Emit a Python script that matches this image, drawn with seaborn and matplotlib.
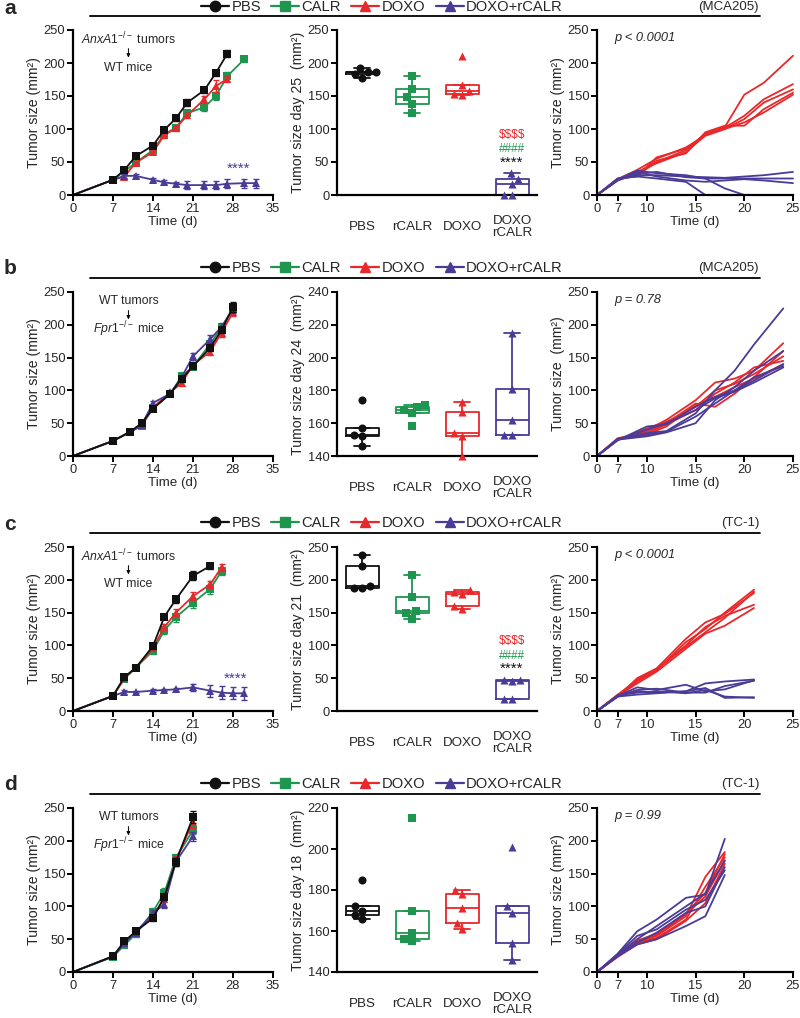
import numpy as np
import pandas as pd
import matplotlib
matplotlib.use("Agg")
import matplotlib.pyplot as plt
import seaborn as sns
from matplotlib.lines import Line2D

sns.set_theme(style="ticks")
plt.rcParams['font.family'] = ['Liberation Sans', 'DejaVu Sans']
plt.rcParams['mathtext.fontset'] = 'custom'
plt.rcParams['mathtext.rm'] = 'Liberation Sans'
plt.rcParams['mathtext.it'] = 'Liberation Sans:italic'

BLACK = '#111111'
GREEN = '#1e9650'
RED = '#e8282a'
PURPLE = '#4b3b97'

groups = ['PBS', 'CALR', 'DOXO', 'DOXO+rCALR']
box_cats = ['PBS', 'rCALR', 'DOXO', 'DOXO\nrCALR']
cells = ['(MCA205)', '(MCA205)', '(TC-1)', '(TC-1)']

# ---------------- panel a: time course ----------------
a_days_pbs = [0, 7, 9, 11, 14, 16, 18, 20, 23, 25, 27]
a_pbs = [0, 23, 38, 59, 75, 99, 116, 140, 159, 185, 214]
a_pbs_sem = [0, 2, 3, 3, 3, 4, 4, 5, 4, 5, 5]
a_days_calr = [0, 7, 9, 11, 14, 16, 18, 20, 23, 25, 27, 30]
a_calr = [0, 23, 36, 49, 68, 92, 102, 124, 133, 150, 180, 206]
a_calr_sem = [0, 2, 3, 3, 4, 4, 4, 5, 5, 6, 7, 4]
a_days_doxo = [0, 7, 9, 11, 14, 16, 18, 20, 23, 25, 27]
a_doxo = [0, 23, 28, 49, 65, 91, 101, 121, 145, 165, 176]
a_doxo_sem = [0, 2, 3, 3, 3, 4, 4, 4, 5, 9, 5]
a_days_dr = [0, 7, 9, 11, 14, 16, 18, 20, 23, 25, 27, 30, 32]
a_dr = [0, 23, 29, 29, 23, 19, 17, 15, 15, 15, 17, 18, 18]
a_dr_sem = [0, 2, 3, 3, 3, 3, 3, 6, 6, 6, 7, 7, 7]

# ---------------- panel b: time course ----------------
b_days = [0, 7, 10, 12, 14, 17, 19, 21, 24, 26, 28]
b_pbs = [0, 23, 37, 50, 72, 95, 117, 137, 165, 192, 227]
b_pbs_sem = [0, 1, 2, 2, 3, 3, 4, 4, 5, 5, 8]
b_calr = [0, 23, 37, 46, 73, 94, 122, 136, 171, 196, 225]
b_calr_sem = [0, 2, 2, 3, 3, 3, 4, 4, 5, 5, 6]
b_doxo = [0, 23, 37, 47, 74, 97, 111, 139, 159, 188, 219]
b_doxo_sem = [0, 2, 2, 2, 3, 3, 4, 4, 5, 6, 5]
b_dr = [0, 23, 36, 47, 81, 95, 120, 152, 178, 197, 224]
b_dr_sem = [0, 2, 2, 2, 3, 4, 4, 5, 6, 5, 6]

# ---------------- panel c: time course ----------------
c_days_pbs = [0, 7, 9, 11, 14, 16, 18, 21, 24]
c_pbs = [0, 23, 52, 66, 99, 144, 170, 206, 221]
c_pbs_sem = [0, 2, 4, 3, 4, 4, 6, 7, 4]
c_days_calr = [0, 7, 9, 11, 14, 16, 18, 21, 24, 26]
c_calr = [0, 23, 49, 66, 92, 123, 143, 165, 186, 213]
c_calr_sem = [0, 2, 3, 3, 5, 6, 7, 8, 7, 5]
c_doxo = [0, 23, 50, 66, 96, 128, 150, 175, 193, 219]
c_doxo_sem = [0, 2, 3, 3, 4, 5, 5, 6, 5, 5]
c_days_dr = [0, 7, 9, 11, 14, 16, 18, 21, 24, 26, 28, 30]
c_dr = [0, 23, 29, 29, 31, 32, 33, 36, 31, 28, 27, 27]
c_dr_sem = [0, 2, 3, 2, 2, 2, 2, 5, 9, 10, 9, 10]

# ---------------- panel d: time course ----------------
d_days = [0, 7, 9, 11, 14, 16, 18, 21]
d_pbs = [0, 24, 47, 62, 82, 115, 168, 236]
d_pbs_sem = [0, 2, 3, 4, 4, 6, 6, 9]
d_calr = [0, 23, 41, 58, 92, 121, 174, 216]
d_calr_sem = [0, 2, 3, 4, 6, 7, 6, 6]
d_doxo = [0, 24, 45, 62, 86, 112, 170, 229]
d_doxo_sem = [0, 2, 3, 4, 4, 6, 7, 9]
d_dr = [0, 24, 44, 60, 90, 103, 168, 207]
d_dr_sem = [0, 2, 3, 3, 5, 6, 7, 7]

# ---------------- box plots (single-day tumor sizes) ----------------
a_box_pbs = [177, 183, 186, 187, 192]
a_box_rcalr = [125, 138, 148, 161, 180]
a_box_doxo = [151, 153, 158, 167, 210]
a_box_dr = [0, 0, 16, 25, 33]

b_box_pbs = [146, 152, 153, 157, 174]
b_box_rcalr = [158, 166, 168, 170, 171]
b_box_doxo = [140, 152, 154, 167, 173]
b_box_dr = [153, 153, 162, 181, 215]

c_box_pbs = [188, 188, 191, 221, 238]
c_box_rcalr = [141, 149, 152, 174, 208]
c_box_doxo = [155, 160, 179, 181, 184]
c_box_dr = [18, 19, 46, 47, 48]

d_box_pbs = [166, 168, 170, 172, 185]
d_box_rcalr = [155, 156, 159, 170, 215]
d_box_doxo = [161, 164, 171, 178, 180]
d_box_dr = [146, 154, 169, 172, 201]

# ---------------- individual growth curves ----------------
a_ind_days = [0, 7, 9, 11, 14, 16, 18, 20, 22, 25]
a_ind_doxo = [
    [0, 24, 30, 50, 68, 93, 103, 152, 170, 211],
    [0, 25, 28, 57, 70, 92, 102, 120, 145, 168],
    [0, 23, 35, 48, 65, 90, 100, 115, 140, 160],
    [0, 22, 33, 52, 63, 95, 105, 105, 130, 155],
    [0, 24, 38, 55, 72, 90, 100, 110, 125, 152],
]
a_ind_dr = [
    [0, 23, 30, 30, 28, 27, 26, 28, 30, 35],
    [0, 24, 37, 33, 30, 25, 25, 25, 25, 25],
    [0, 22, 35, 28, 22, 20, 22, 24, 22, 18],
    [0, 25, 28, 25, 20, 0, 0, 0, 0, 0],
    [0, 23, 32, 35, 27, 25, 10, 0, 0, 0],
]
b_ind_days = [0, 7, 10, 12, 15, 17, 19, 21, 24]
b_ind_doxo = [
    [0, 25, 40, 55, 85, 112, 118, 130, 172],
    [0, 27, 37, 50, 80, 75, 95, 120, 160],
    [0, 24, 42, 52, 75, 100, 110, 125, 152],
    [0, 26, 35, 48, 70, 95, 112, 135, 145],
    [0, 25, 33, 45, 78, 90, 105, 118, 140],
]
b_ind_dr = [
    [0, 26, 35, 38, 65, 100, 130, 170, 225],
    [0, 25, 30, 36, 50, 85, 105, 130, 160],
    [0, 24, 45, 48, 75, 90, 100, 115, 140],
    [0, 26, 32, 37, 60, 80, 100, 120, 137],
    [0, 25, 40, 50, 70, 88, 98, 112, 135],
]
c_ind_days = [0, 7, 9, 11, 14, 16, 18, 21]
c_ind_doxo = [
    [0, 23, 45, 62, 105, 125, 150, 185],
    [0, 22, 50, 65, 110, 135, 148, 180],
    [0, 24, 48, 63, 100, 128, 145, 162],
    [0, 23, 42, 60, 95, 118, 130, 157],
    [0, 25, 46, 64, 98, 120, 142, 182],
]
c_ind_dr = [
    [0, 22, 30, 28, 30, 42, 45, 48],
    [0, 23, 36, 32, 40, 30, 33, 47],
    [0, 24, 28, 30, 27, 32, 22, 20],
    [0, 22, 25, 27, 30, 35, 20, 21],
    [0, 23, 32, 34, 28, 28, 38, 46],
]
d_ind_days = [0, 7, 9, 11, 14, 16, 18]
d_ind_doxo = [
    [0, 25, 45, 55, 85, 145, 183],
    [0, 24, 44, 52, 80, 130, 175],
    [0, 26, 48, 58, 90, 120, 180],
    [0, 23, 42, 50, 78, 105, 165],
    [0, 25, 46, 56, 88, 115, 170],
]
d_ind_dr = [
    [0, 28, 62, 80, 113, 118, 203],
    [0, 26, 50, 70, 100, 120, 170],
    [0, 25, 45, 60, 90, 100, 160],
    [0, 24, 42, 50, 70, 85, 148],
    [0, 27, 55, 65, 95, 110, 155],
]
p_texts = ['p < 0.0001', 'p = 0.78', 'p < 0.0001', 'p = 0.99']
box_days = [25, 24, 21, 18]

# ======================================================================
W, H = 800, 1018
fig = plt.figure(figsize=(W / 100, H / 100), dpi=100)


def rect(x0, yt, x1, yb):
    return [x0 / W, 1 - yb / H, (x1 - x0) / W, (yb - yt) / H]


rows = [(30, 195), (292, 456), (547, 711), (808, 972)]
hdr_y = [16, 278, 533, 794]
leg_y = [7, 268, 523, 784]
letters = ['a', 'b', 'c', 'd']

TICK_FS = 9.3
XLAB_FS = 9.6
YLAB_FS = 10.2


def style_axes(ax):
    sns.despine(ax=ax)
    for s in ['left', 'bottom']:
        ax.spines[s].set_linewidth(1.6)
        ax.spines[s].set_color('black')
    ax.tick_params(axis='both', length=4, width=1.4, labelsize=TICK_FS,
                   color='black', pad=1.5)


def time_course(ax, series, ann1, ann2, stars):
    for days, vals, sem, color, marker in series:
        df = pd.DataFrame({'day': days, 'size': vals})
        sns.lineplot(data=df, x='day', y='size', color=color, marker=marker,
                     markevery=list(range(1, len(days))), markersize=5.8,
                     markeredgewidth=0, lw=1.3, estimator=None, errorbar=None,
                     sort=False, ax=ax, clip_on=False)
        ax.errorbar(days[1:], vals[1:], yerr=sem[1:], fmt='none', ecolor=color,
                    elinewidth=1.0, capsize=2.5, capthick=1.0)
    ax.set_xlim(0, 35)
    ax.set_ylim(0, 250)
    ax.set_xticks(range(0, 36, 7))
    ax.set_yticks(range(0, 251, 50))
    ax.set_xlabel('Time (d)', fontsize=XLAB_FS, labelpad=1)
    ax.set_ylabel('Tumor size (mm²)', fontsize=YLAB_FS, labelpad=2)
    ax.text(9.7, 236, ann1, ha='center', va='center', fontsize=8.8)
    ax.annotate('', xy=(9.7, 204), xytext=(9.7, 226),
                arrowprops=dict(arrowstyle='-|>', lw=0.7, color='black',
                                mutation_scale=5))
    ax.text(9.7, 193, ann2, ha='center', va='center', fontsize=8.8)
    if stars is not None:
        ax.text(stars[0], stars[1], '****', color=PURPLE, ha='center',
                va='center', fontsize=11)
    style_axes(ax)


def box_panel(ax, vals_list, ylim, yticks, day, stats):
    rows_g, rows_v = [], []
    for cat, vals in zip(box_cats, vals_list):
        rows_g += [cat] * len(vals)
        rows_v += list(vals)
    df = pd.DataFrame({'g': rows_g, 'v': rows_v})
    pal = dict(zip(box_cats, [BLACK, GREEN, RED, PURPLE]))
    sns.boxplot(data=df, x='g', y='v', hue='g', order=box_cats,
                hue_order=box_cats, palette=pal, fill=False, width=0.66,
                linewidth=1.3, whis=1.5, showfliers=False, legend=False, ax=ax)
    markers = ['o', 's', '^', '^']
    for cat, vals, col, mk in zip(box_cats, vals_list,
                                  [BLACK, GREEN, RED, PURPLE], markers):
        sub = pd.DataFrame({'g': [cat] * len(vals), 'v': vals})
        sns.swarmplot(data=sub, x='g', y='v', order=box_cats, color=col,
                      marker=mk, size=5.8, ax=ax, zorder=4)
    for coll in ax.collections:
        coll.set_clip_on(False)
    ax.set_xlim(-0.5, 3.5)
    ax.set_ylim(*ylim)
    ax.set_yticks(yticks)
    ax.set_xlabel('')
    ax.set_ylabel(f'Tumor size day {day}  (mm²)', fontsize=YLAB_FS, labelpad=2)
    style_axes(ax)
    ax.tick_params(axis='x', length=0, pad=23, labelsize=9.6)
    for lbl in ax.get_xticklabels():
        lbl.set_va('center')
        lbl.set_linespacing(1.0)
    if stats is not None:
        for txt, yv, col, fs in zip([r'\$\$\$\$', '####', '****'], stats,
                                    [RED, GREEN, BLACK], [8.5, 8.5, 11]):
            ax.text(3, yv, txt, color=col, ha='center', va='center', fontsize=fs)


P7 = 2.64
SLOPE_HI = (25 - P7) / 18.0


def fwd(d):
    d = np.asarray(d, dtype=float)
    return np.where(d < 7, d * P7 / 7.0, P7 + (d - 7) * SLOPE_HI)


def inv(p):
    p = np.asarray(p, dtype=float)
    return np.where(p < P7, p * 7.0 / P7, 7 + (p - P7) / SLOPE_HI)


def indiv_panel(ax, days, reds, purples, ptxt, ylabel):
    recs = []
    k = 0
    for grp, curves in [('DOXO', reds), ('DOXO+rCALR', purples)]:
        for c in curves:
            for dd, vv in zip(days, c):
                recs.append((dd, vv, k, grp))
            k += 1
    df = pd.DataFrame(recs, columns=['day', 'size', 'mouse', 'group'])
    sns.lineplot(data=df, x='day', y='size', units='mouse', estimator=None,
                 hue='group', palette={'DOXO': RED, 'DOXO+rCALR': PURPLE},
                 legend=False, lw=1.3, ax=ax, clip_on=False)
    ax.set_xscale('function', functions=(fwd, inv))
    ax.set_xlim(0, 25)
    ax.set_ylim(0, 250)
    ax.set_xticks([0, 7, 10, 15, 20, 25])
    ax.set_xticklabels(['0', '7', '10', '15', '20', '25'])
    ax.set_yticks(range(0, 251, 50))
    ax.set_xlabel('Time (d)', fontsize=XLAB_FS, labelpad=1)
    ax.set_ylabel(ylabel, fontsize=YLAB_FS, labelpad=2)
    ax.text(0.09, 0.95, ptxt, transform=ax.transAxes, fontstyle='italic',
            fontsize=9.3, ha='left', va='center')
    style_axes(ax)
    ax.minorticks_off()


tc_data = [
    [(a_days_calr, a_calr, a_calr_sem, GREEN, 's'),
     (a_days_doxo, a_doxo, a_doxo_sem, RED, '^'),
     (a_days_dr, a_dr, a_dr_sem, PURPLE, '^'),
     (a_days_pbs, a_pbs, a_pbs_sem, BLACK, 's')],
    [(b_days, b_calr, b_calr_sem, GREEN, 's'),
     (b_days, b_doxo, b_doxo_sem, RED, '^'),
     (b_days, b_dr, b_dr_sem, PURPLE, '^'),
     (b_days, b_pbs, b_pbs_sem, BLACK, 's')],
    [(c_days_calr, c_calr, c_calr_sem, GREEN, 's'),
     (c_days_calr, c_doxo, c_doxo_sem, RED, '^'),
     (c_days_dr, c_dr, c_dr_sem, PURPLE, '^'),
     (c_days_pbs, c_pbs, c_pbs_sem, BLACK, 's')],
    [(d_days, d_calr, d_calr_sem, GREEN, 's'),
     (d_days, d_doxo, d_doxo_sem, RED, '^'),
     (d_days, d_dr, d_dr_sem, PURPLE, '^'),
     (d_days, d_pbs, d_pbs_sem, BLACK, 's')],
]
anns = [(r'$\mathit{AnxA1}^{-/-}$ tumors', 'WT mice'),
        ('WT tumors', r'$\mathit{Fpr1}^{-/-}$ mice'),
        (r'$\mathit{AnxA1}^{-/-}$ tumors', 'WT mice'),
        ('WT tumors', r'$\mathit{Fpr1}^{-/-}$ mice')]
stars_pos = [(29.0, 40), None, (28.5, 49), None]

box_data = [
    [a_box_pbs, a_box_rcalr, a_box_doxo, a_box_dr],
    [b_box_pbs, b_box_rcalr, b_box_doxo, b_box_dr],
    [c_box_pbs, c_box_rcalr, c_box_doxo, c_box_dr],
    [d_box_pbs, d_box_rcalr, d_box_doxo, d_box_dr],
]
box_ylims = [(0, 250), (140, 240), (0, 250), (140, 220)]
box_yticks = [range(0, 251, 50), range(140, 241, 20), range(0, 251, 50),
              range(140, 221, 20)]
box_stats = [(91, 70, 49), None, (107, 84, 65), None]

ind_data = [(a_ind_days, a_ind_doxo, a_ind_dr),
            (b_ind_days, b_ind_doxo, b_ind_dr),
            (c_ind_days, c_ind_doxo, c_ind_dr),
            (d_ind_days, d_ind_doxo, d_ind_dr)]
ind_ylabels = ['Tumor size (mm²)', 'Tumor size  (mm²)', 'Tumor size (mm²)',
               'Tumor size (mm²)']

leg_handles = [
    Line2D([], [], color=BLACK, marker='o', markersize=7.5, lw=1.6),
    Line2D([], [], color=GREEN, marker='s', markersize=7, lw=1.6),
    Line2D([], [], color=RED, marker='^', markersize=7.5, lw=1.6),
    Line2D([], [], color=PURPLE, marker='^', markersize=7.5, lw=1.6),
]

for i, (yt, yb) in enumerate(rows):
    ax1 = fig.add_axes(rect(73, yt, 273, yb))
    time_course(ax1, tc_data[i], anns[i][0], anns[i][1], stars_pos[i])

    ax2 = fig.add_axes(rect(337, yt, 537, yb))
    box_panel(ax2, box_data[i], box_ylims[i], box_yticks[i], box_days[i],
              box_stats[i])

    ax3 = fig.add_axes(rect(597, yt, 793, yb))
    indiv_panel(ax3, *ind_data[i], p_texts[i], ind_ylabels[i])

    # header: legend, line, cell line name, panel letter
    fig.legend(leg_handles, groups, loc='center',
               bbox_to_anchor=(382 / W, 1 - leg_y[i] / H), ncol=4,
               frameon=False, fontsize=10.6, handlelength=1.9,
               handletextpad=0.15, columnspacing=0.7, borderaxespad=0,
               borderpad=0)
    fig.add_artist(Line2D([90 / W, 760 / W], [1 - hdr_y[i] / H] * 2,
                          color='black', lw=1.3))
    fig.text(759 / W, 1 - leg_y[i] / H, cells[i], ha='right', va='center',
             fontsize=9.5)
    fig.text(4 / W, 1 - (leg_y[i] + 1) / H, letters[i], ha='left',
             va='center', fontsize=15, fontweight='bold')

fig.savefig('out.png', dpi=100)
